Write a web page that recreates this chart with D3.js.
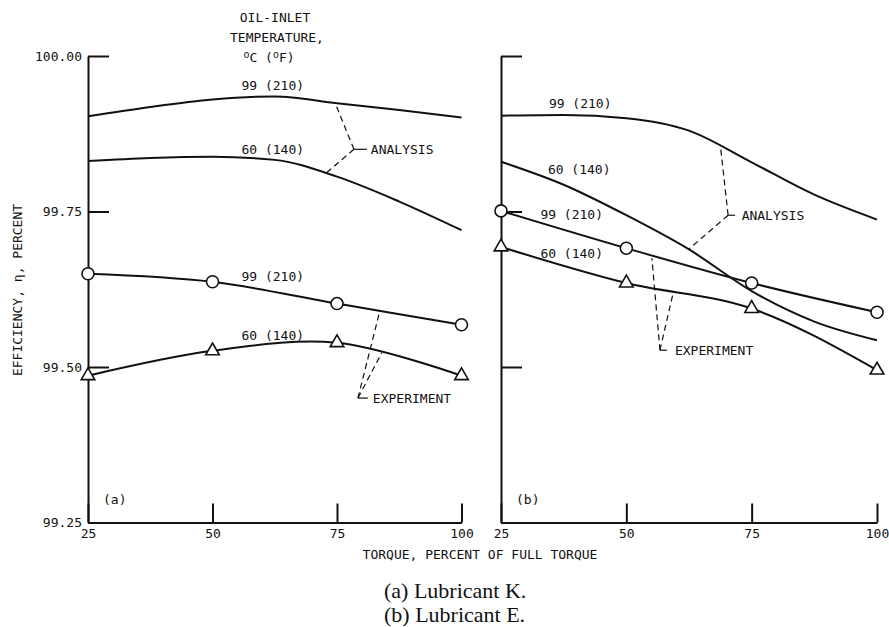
<!DOCTYPE html>
<html>
<head>
<meta charset="utf-8">
<script src="https://cdn.jsdelivr.net/npm/d3@7"></script>
<style>
  body { margin: 0; background: #fff; }
  svg text { font-family: "DejaVu Sans Mono", monospace; font-size: 13px; fill: #111; }
  .caption { font-family: "Liberation Serif", "Times New Roman", serif; font-size: 22px; }
</style>
</head>
<body>
<div id="chart"></div>
<script>
const width = 889;
const height = 627;

// axis values
const torqueTicks = [25, 50, 75, 100];
const effTicks = [99.25, 99.5, 99.75, 100];
const effLabels = ["99.25", "99.50", "99.75", "100.00"];

// analysis curves
const analysisTorque = [25, 37.5, 50, 62.5, 75, 87.5, 100];
const analysisK99 = [99.903, 99.918, 99.930, 99.935, 99.924, 99.913, 99.901];
const analysisK60 = [99.831, 99.836, 99.838, 99.833, 99.806, 99.766, 99.720];
const analysisE99 = [99.904, 99.905, 99.900, 99.880, 99.829, 99.777, 99.737];
const analysisE60 = [99.830, 99.793, 99.744, 99.689, 99.622, 99.573, 99.543];

// experiment points
const expTorque = [25, 50, 75, 100];
const expK99 = [99.650, 99.637, 99.602, 99.568];
const expK60 = [99.486, 99.526, 99.539, 99.486];
const expE99 = [99.751, 99.691, 99.635, 99.588];
const expE60 = [99.693, 99.635, 99.594, 99.495];

const svg = d3.select("#chart").append("svg")
  .attr("width", width)
  .attr("height", height);

const y = d3.scaleLinear().domain([99.25, 100]).range([522.5, 56]);
const xL = d3.scaleLinear().domain([25, 100]).range([88, 461.5]);
const xR = d3.scaleLinear().domain([25, 100]).range([501, 877]);

const drawPanel = (x, showLabels, panel) => {
  const g = svg.append("g");

  // y axis, ticks pointing inward
  const yAxis = d3.axisLeft(y)
    .tickValues(effTicks)
    .tickSizeInner(-21)
    .tickSizeOuter(0)
    .tickPadding(6)
    .tickFormat((d, i) => showLabels ? effLabels[i] : "");
  g.append("g")
    .attr("transform", `translate(${x(25)},0)`)
    .call(yAxis);

  // x axis, ticks pointing up
  const xAxis = d3.axisBottom(x)
    .tickValues(torqueTicks)
    .tickSizeInner(-19)
    .tickSizeOuter(0)
    .tickPadding(6)
    .tickFormat(d3.format("d"));
  g.append("g")
    .attr("transform", `translate(0,${y(99.25)})`)
    .call(xAxis);

  g.selectAll(".domain, .tick line")
    .attr("stroke", "#111")
    .attr("stroke-width", 2);
  g.selectAll(".tick text")
    .attr("font-family", "DejaVu Sans Mono, monospace")
    .attr("font-size", 13)
    .attr("fill", "#111");

  const line = d3.line()
    .x(d => x(d[0]))
    .y(d => y(d[1]))
    .curve(d3.curveMonotoneX);

  panel.analysis.forEach(vals => {
    g.append("path")
      .datum(analysisTorque.map((t, i) => [t, vals[i]]))
      .attr("d", line)
      .attr("fill", "none")
      .attr("stroke", "#111")
      .attr("stroke-width", 2);
  });

  const expLine = d3.line()
    .x(d => x(d[0]))
    .y(d => y(d[1]))
    .curve(panel.expCurve);

  panel.experiment.forEach((vals, k) => {
    const pts = expTorque.map((t, i) => [t, vals[i]]);
    g.append("path")
      .datum(pts)
      .attr("d", expLine)
      .attr("fill", "none")
      .attr("stroke", "#111")
      .attr("stroke-width", 2);

    if (k === 0) {
      g.selectAll(null)
        .data(pts)
        .enter()
        .append("circle")
        .attr("cx", d => x(d[0]))
        .attr("cy", d => y(d[1]))
        .attr("r", 6)
        .attr("fill", "#fff")
        .attr("stroke", "#111")
        .attr("stroke-width", 1.6);
    } else {
      g.selectAll(null)
        .data(pts)
        .enter()
        .append("path")
        .attr("d", d3.symbol(d3.symbolTriangle, 80))
        .attr("transform", d => `translate(${x(d[0])},${y(d[1])})`)
        .attr("fill", "#fff")
        .attr("stroke", "#111")
        .attr("stroke-width", 1.6);
    }
  });

  // curve labels
  panel.curveLabels.forEach(l => {
    g.append("text")
      .attr("x", x(l.t))
      .attr("y", y(l.v))
      .attr("dy", "0.35em")
      .attr("text-anchor", "middle")
      .text(l.text);
  });

  // leader brackets
  panel.leaders.forEach(l => {
    const jx = x(l.jt), jy = y(l.jv);
    l.ends.forEach(e => {
      g.append("line")
        .attr("x1", jx).attr("y1", jy)
        .attr("x2", x(e[0])).attr("y2", y(e[1]))
        .attr("stroke", "#111")
        .attr("stroke-width", 1.2)
        .attr("stroke-dasharray", "6,4");
    });
    g.append("line")
      .attr("x1", jx).attr("y1", jy)
      .attr("x2", x(l.tickT)).attr("y2", jy)
      .attr("stroke", "#111")
      .attr("stroke-width", 1.2);
    g.append("text")
      .attr("x", x(l.textT))
      .attr("y", jy)
      .attr("dy", "0.35em")
      .text(l.text);
  });

  g.append("text")
    .attr("x", x(25) + 15)
    .attr("y", 499)
    .attr("dy", "0.35em")
    .text(panel.tag);
};

drawPanel(xL, true, {
  tag: "(a)",
  expCurve: d3.curveCatmullRom,
  analysis: [analysisK99, analysisK60],
  experiment: [expK99, expK60],
  curveLabels: [
    { t: 62.1, v: 99.953, text: "99 (210)" },
    { t: 62.1, v: 99.849, text: "60 (140)" },
    { t: 62.1, v: 99.646, text: "99 (210)" },
    { t: 62.1, v: 99.551, text: "60 (140)" }
  ],
  leaders: [
    { text: "ANALYSIS", jt: 78.4, jv: 99.850, tickT: 81.0, textT: 81.8,
      ends: [[74.8, 99.921], [72.4, 99.809]] },
    { text: "EXPERIMENT", jt: 79.2, jv: 99.450, tickT: 81.2, textT: 82.2,
      ends: [[83.6, 99.590], [84.0, 99.523]] }
  ]
});

drawPanel(xR, false, {
  tag: "(b)",
  expCurve: d3.curveMonotoneX,
  analysis: [analysisE99, analysisE60],
  experiment: [expE99, expE60],
  curveLabels: [
    { t: 40.8, v: 99.923, text: "99 (210)" },
    { t: 40.6, v: 99.817, text: "60 (140)" },
    { t: 39.1, v: 99.746, text: "99 (210)" },
    { t: 39.1, v: 99.682, text: "60 (140)" }
  ],
  leaders: [
    { text: "ANALYSIS", jt: 70.3, jv: 99.744, tickT: 71.7, textT: 73.0,
      ends: [[68.8, 99.853], [62.4, 99.689]] },
    { text: "EXPERIMENT", jt: 56.7, jv: 99.527, tickT: 58.1, textT: 59.7,
      ends: [[55.1, 99.675], [59.4, 99.621]] }
  ]
});

// header above the left panel
const header = svg.append("text")
  .attr("text-anchor", "middle");
header.append("tspan").attr("x", 275).attr("y", 22).text("OIL-INLET");
header.append("tspan").attr("x", 277).attr("y", 42).text("TEMPERATURE,");
const unit = svg.append("text")
  .attr("x", 269).attr("y", 62)
  .attr("text-anchor", "middle");
unit.append("tspan").attr("font-size", 10).attr("dy", -4).text("o");
unit.append("tspan").attr("dy", 4).text("C (");
unit.append("tspan").attr("font-size", 10).attr("dy", -4).text("o");
unit.append("tspan").attr("dy", 4).text("F)");

// axis titles
svg.append("text")
  .attr("transform", "translate(22,290) rotate(-90)")
  .attr("text-anchor", "middle")
  .text("EFFICIENCY, \u03b7, PERCENT");

svg.append("text")
  .attr("x", 480)
  .attr("y", 559)
  .attr("text-anchor", "middle")
  .text("TORQUE, PERCENT OF FULL TORQUE");

// captions
svg.append("text").attr("class", "caption")
  .attr("x", 384).attr("y", 598).text("(a) Lubricant K.");
svg.append("text").attr("class", "caption")
  .attr("x", 384).attr("y", 622).text("(b) Lubricant E.");
</script>
</body>
</html>
